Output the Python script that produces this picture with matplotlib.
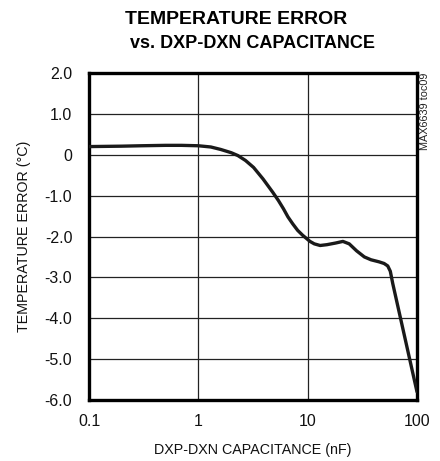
import matplotlib
matplotlib.use("Agg")
import matplotlib.pyplot as plt
from matplotlib.ticker import FixedLocator, FixedFormatter, NullLocator

plt.rcParams['font.family'] = ['Liberation Sans Narrow', 'Liberation Sans', 'DejaVu Sans']

cap_nf = [0.1, 0.2, 0.3, 0.5, 0.7, 1.0, 1.3, 1.6, 2.0, 2.3, 2.7, 3.2, 3.9, 4.8, 5.4, 6.0,
          6.6, 7.3, 8.1, 9.0, 10.5, 11.5, 13, 15, 18, 21, 24, 28, 33, 38, 45, 50, 54,
          57, 60, 100]
temp_err = [0.2, 0.21, 0.22, 0.23, 0.23, 0.22, 0.19, 0.13, 0.05, -0.02, -0.14, -0.31,
            -0.59, -0.92, -1.12, -1.32, -1.52, -1.69, -1.85, -1.97, -2.12, -2.18, -2.22,
            -2.2, -2.16, -2.12, -2.18, -2.35, -2.5, -2.57, -2.62, -2.66, -2.72, -2.85,
            -3.15, -5.8]

xticks = [0.1, 1, 10, 100]
xticklabels = ["0.1", "1", "10", "100"]
yticks = [2, 1, 0, -1, -2, -3, -4, -5, -6]
yticklabels = ["2.0", "1.0", "0", "-1.0", "-2.0", "-3.0", "-4.0", "-5.0", "-6.0"]

fig = plt.figure(figsize=(4.4, 4.61), dpi=100)
ax = fig.add_axes([89/440, 1-400/461, (417-89)/440, (400-73)/461])

ax.plot(cap_nf, temp_err, color='#1a1a1a', lw=2.4, solid_capstyle='round',
        solid_joinstyle='round', zorder=3)
ax.set_xscale('log')
ax.set_xlim(0.1, 100)
ax.set_ylim(-6, 2)
ax.xaxis.set_major_locator(FixedLocator(xticks))
ax.xaxis.set_major_formatter(FixedFormatter(xticklabels))
ax.xaxis.set_minor_locator(NullLocator())
ax.yaxis.set_major_locator(FixedLocator(yticks))
ax.yaxis.set_major_formatter(FixedFormatter(yticklabels))
ax.grid(True, color='#222222', lw=0.9)
ax.tick_params(length=0, labelsize=11.5, colors='#111111')
ax.tick_params(axis='y', pad=12)
ax.tick_params(axis='x', pad=10)
for s in ax.spines.values():
    s.set_linewidth(2.4)
    s.set_color('black')

ax.set_xlabel("DXP-DXN CAPACITANCE (nF)", fontsize=10.3, labelpad=10, color='#111111')
ax.set_ylabel("TEMPERATURE ERROR (°C)", fontsize=10.3, labelpad=10, color='#111111')

fig.text(236/440, 1-20/461, "TEMPERATURE ERROR", ha='center', va='center',
         fontsize=14, fontweight='bold')
fig.text(252/440, 1-43/461, "vs. DXP-DXN CAPACITANCE", ha='center', va='center',
         fontsize=13, fontweight='bold')
fig.text(425/440, 1-111/461, "MAX6639 toc09", rotation=90, ha='center', va='center',
         fontsize=7.8, color='#222222')

fig.savefig("out.png", dpi=100)
